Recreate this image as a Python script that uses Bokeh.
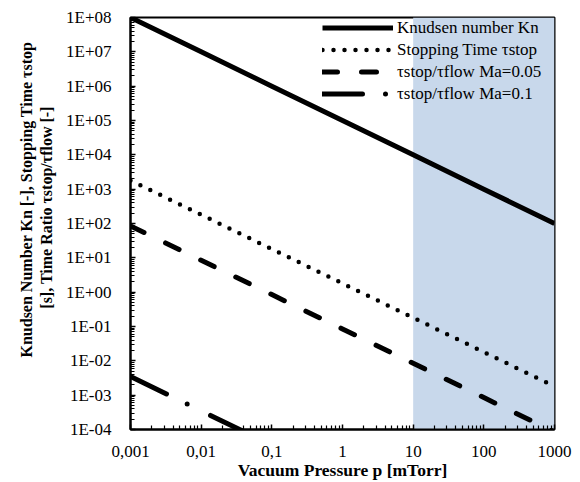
from bokeh.plotting import figure
from bokeh.models import (FixedTicker, CustomJSTickFormatter, BoxAnnotation,
                          Legend, LegendItem)
from bokeh.embed import file_html
from bokeh.resources import INLINE

# ---- data ----
pressure = [0.001, 0.01, 0.1, 1, 10, 100, 1000]
knudsen = [1e8, 1e7, 1e6, 1e5, 1e4, 1e3, 1e2]
stopping_time = [1.8e3, 1.8e2, 18, 1.8, 0.18, 0.018, 0.0018]
ratio_ma005 = [85, 8.5, 0.85, 0.085, 0.0085, 0.00085, 0.000085]
pressure_ma01 = [0.001, 0.01, 0.1]
ratio_ma01 = [3.5e-3, 3.5e-4, 3.5e-5]

x_tick_values = [0.001, 0.01, 0.1, 1, 10, 100, 1000]
x_tick_labels = ["0,001", "0,01", "0,1", "1", "10", "100", "1000"]
y_tick_values = [1e-4, 1e-3, 1e-2, 1e-1, 1e0, 1e1, 1e2, 1e3, 1e4, 1e5, 1e6, 1e7, 1e8]
y_tick_labels = ["1E-04", "1E-03", "1E-02", "1E-01", "1E+00", "1E+01", "1E+02",
                 "1E+03", "1E+04", "1E+05", "1E+06", "1E+07", "1E+08"]
shade_from, shade_to = 10, 1000

series_names = ["Knudsen number Kn", "Stopping Time \u03c4stop",
                "\u03c4stop/\u03c4flow Ma=0.05", "\u03c4stop/\u03c4flow Ma=0.1"]

SERIF = "'Liberation Serif', 'Times New Roman', serif"
NB = "\u00a0"

p = figure(width=572, height=482, x_axis_type="log", y_axis_type="log",
           x_range=(0.001, 1000), y_range=(1e-4, 1e8),
           output_backend="svg", toolbar_location=None,
           min_border_left=130, min_border_right=18,
           min_border_top=17, min_border_bottom=49)

p.background_fill_color = "white"
p.border_fill_color = "white"
p.outline_line_color = "black"
p.outline_line_width = 2
p.xgrid.visible = False
p.ygrid.visible = False

p.add_layout(BoxAnnotation(left=shade_from, right=shade_to,
                           fill_color="#C8D8EB", fill_alpha=1.0,
                           line_alpha=0, level="underlay"))

r1 = p.line(pressure, knudsen, line_color="black", line_width=5)
r2 = p.line(pressure, stopping_time, line_color="black", line_width=4.5,
            line_dash="0 11", line_cap="round")
r3 = p.line(pressure, ratio_ma005, line_color="black", line_width=5,
            line_dash="15 24", line_cap="round")
r4 = p.line(pressure_ma01, ratio_ma01, line_color="black", line_width=5,
            line_dash="40 23 0 26", line_cap="round")

# minor ticks at 2..9 x each decade
def minors(majors):
    out = []
    for m in majors[:-1]:
        for k in range(2, 10):
            out.append(m * k)
    return out

p.xaxis.ticker = FixedTicker(ticks=x_tick_values, minor_ticks=minors(x_tick_values))
p.yaxis.ticker = FixedTicker(ticks=y_tick_values, minor_ticks=minors(y_tick_values))
p.xaxis.formatter = CustomJSTickFormatter(args=dict(labels=x_tick_labels), code="""
    const k = Math.round(Math.log10(tick)); return labels[k + 3];""")
p.yaxis.formatter = CustomJSTickFormatter(args=dict(labels=y_tick_labels), code="""
    const k = Math.round(Math.log10(tick)); return labels[k + 4];""")

for ax in (p.xaxis[0], p.yaxis[0]):
    ax.axis_line_color = "black"
    ax.axis_line_width = 2
    ax.major_tick_in = 5
    ax.major_tick_out = 0
    ax.minor_tick_in = 4
    ax.minor_tick_out = 0
    ax.major_tick_line_color = "black"
    ax.minor_tick_line_color = "black"
    ax.major_tick_line_width = 1.5
    ax.minor_tick_line_width = 1.2
    ax.major_label_text_font = SERIF
    ax.major_label_text_font_size = "17px"
    ax.major_label_text_color = "black"
    ax.axis_label_text_font = SERIF
    ax.axis_label_text_font_style = "bold"
    ax.axis_label_text_color = "black"

p.xaxis.axis_label = "Vacuum Pressure p [mTorr]"
p.xaxis.axis_label_text_font_size = "17.5px"
p.xaxis.major_label_standoff = 16
p.xaxis.axis_label_standoff = 0

p.yaxis.axis_label = (NB * 12 + "Knudsen Number Kn [-], Stopping Time \u03c4stop\n"
                      + NB * 8 + "[s], Time Ratio \u03c4stop/\u03c4flow [-]")
p.yaxis.axis_label_text_font_size = "16px"
p.yaxis.major_label_standoff = 19
p.yaxis.axis_label_standoff = 8

legend = Legend(items=[LegendItem(label=series_names[0], renderers=[r1]),
                       LegendItem(label=series_names[1], renderers=[r2]),
                       LegendItem(label=series_names[2], renderers=[r3]),
                       LegendItem(label=series_names[3], renderers=[r4])],
                location=(192, 325))
legend.background_fill_alpha = 0
legend.border_line_alpha = 0
legend.padding = 0
legend.margin = 0
legend.spacing = 1
legend.glyph_width = 71
legend.glyph_height = 21
legend.label_height = 21
legend.label_standoff = 4
legend.label_text_font = SERIF
legend.label_text_font_size = "17px"
legend.label_text_color = "black"
p.add_layout(legend)

open("out.html", "w").write(file_html(p, INLINE))
